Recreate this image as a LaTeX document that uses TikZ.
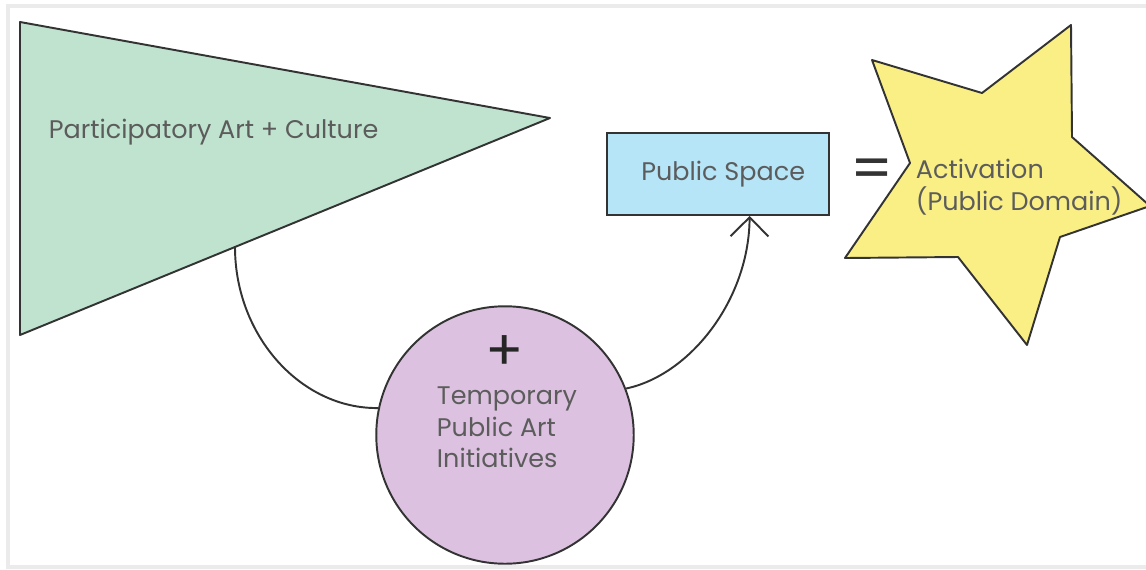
\documentclass[tikz,border=0pt]{standalone}
\usepackage{fontspec}
\setmainfont{Poppins}
\usetikzlibrary{arrows.meta, shapes, positioning}
\definecolor{artgreen}{HTML}{BFE3CE}
\definecolor{spaceblue}{HTML}{B5E5F7}
\definecolor{tempviolet}{HTML}{DCC2E0}
\definecolor{activyellow}{HTML}{F9EF85}
\definecolor{labelgray}{HTML}{5C5C5C}
\definecolor{edgegray}{HTML}{333333}

\begin{document}
\begin{tikzpicture}[x=0.02cm, y=-0.02cm, >={Straight Barb[length=0.38cm, width=0.76cm]}, line width=1.1pt, draw=edgegray, text=labelgray, font=\fontsize{14.5}{18}\selectfont]
        \useasboundingbox (0,0) rectangle (1146,569);
        \draw[black!8, line width=2pt] (1146,6) -- (8,6) -- (8,567) -- (1146,567);

        % participatory art wedge
        \coordinate (T1) at (20,22);
        \coordinate (T2) at (550,118);
        \coordinate (T3) at (20,335);
        \coordinate (arcstart) at (235,247);
        \filldraw[fill=artgreen, line join=round] (T1) -- (T2) -- (T3) -- cycle;
        \node[anchor=west] (pac) at (42,132) {Participatory Art + Culture};

        % temporary initiatives
        \node[circle, draw, fill=tempviolet, minimum size=5.15cm] (tpa) at (505,435) {};
        \node[text=black!85, font=\fontsize{32}{32}\selectfont] (plus) at (505,353) {+};
        \node[anchor=north west, align=left, inner sep=0pt] (tpatext) at (436,386) {Temporary\\Public Art\\Initiatives};

        % public space
        \node[rectangle, draw, fill=spaceblue, minimum width=4.44cm, minimum height=1.64cm] (ps) at (718,174) {\hspace{6pt}Public Space};
        \node[text=edgegray, font=\fontsize{34}{34}\selectfont] (eq) at (872,174) {=};

        % activation star
        \filldraw[fill=activyellow, line join=round] (1071,25) -- (1072,137) -- (1150,206) -- (1060,237) -- (1027,345)
            -- (958,257) -- (845,258) -- (910,163) -- (872,60) -- (982,93) -- cycle;
        \node[anchor=west, align=left, inner sep=0pt] (act) at (915,187) {Activation\\(Public Domain)};

        \draw (arcstart) .. controls (235,336) and (301,409) .. (tpa.168);
        \draw[->] (tpa.21) .. controls (690,375) and (749,300) .. (ps.-53);
\end{tikzpicture}
\end{document}
